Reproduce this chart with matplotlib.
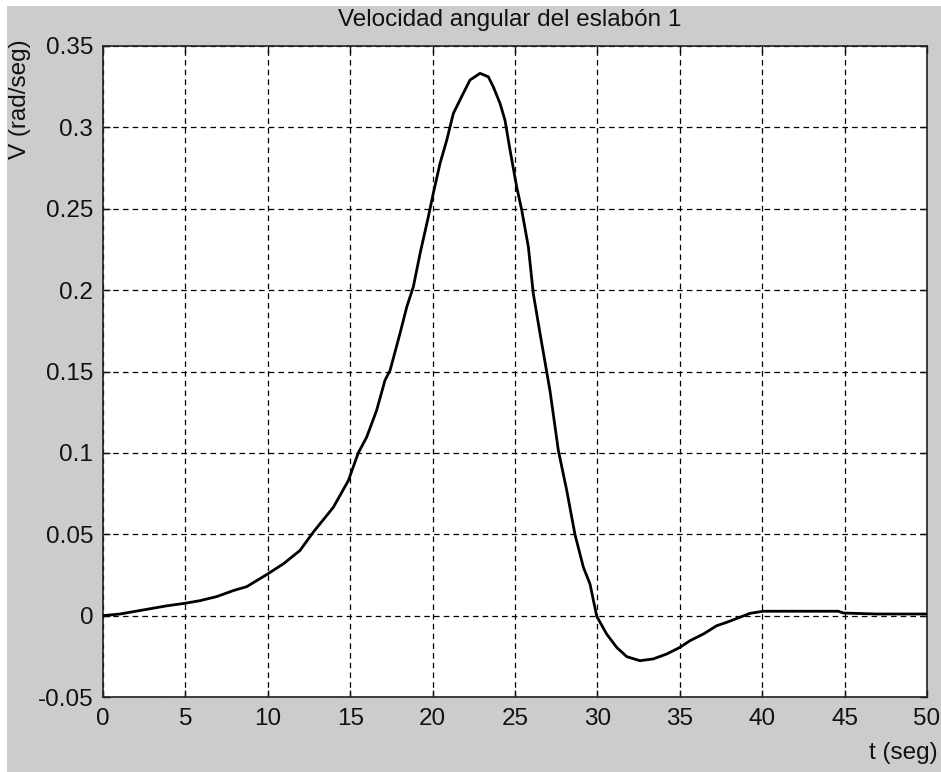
import numpy as np
import matplotlib
matplotlib.use('Agg')
import matplotlib.pyplot as plt
from matplotlib.patches import Rectangle

plt.rcParams['font.family'] = ['Liberation Sans', 'DejaVu Sans']
plt.rcParams['lines.scale_dashes'] = False

# valores
t = [0.0, 1.03, 2.45, 3.86, 4.98, 5.89, 6.9, 7.91, 8.72, 9.93, 10.94, 11.95, 12.76,
     13.98, 14.89, 15.49, 16.0, 16.6, 17.11, 17.42, 18.02, 18.43, 18.83, 19.24, 19.74,
     20.04, 20.45, 20.86, 21.26, 21.86, 22.27, 22.88, 23.38, 23.68, 24.09, 24.39, 24.7,
     25.1, 25.41, 25.81, 26.11, 26.52, 26.92, 27.12, 27.63, 28.14, 28.64, 29.15, 29.55,
     29.96, 30.56, 31.17, 31.78, 32.58, 33.39, 34.2, 35.01, 35.62, 36.43, 37.24, 37.85,
     38.65, 39.26, 40.07, 44.62, 44.92, 46.95, 50.0]
v = [0.0, 0.001, 0.0035, 0.006, 0.0076, 0.0092, 0.0117, 0.0154, 0.0178, 0.0252, 0.0318,
     0.040, 0.0513, 0.0666, 0.083, 0.100, 0.1097, 0.126, 0.1446, 0.1507, 0.1733, 0.1896,
     0.202, 0.2225, 0.245, 0.2594, 0.2778, 0.2922, 0.3086, 0.3209, 0.3291, 0.3332, 0.3311,
     0.325, 0.3148, 0.3045, 0.286, 0.2635, 0.2491, 0.2266, 0.1979, 0.1733, 0.150, 0.1384,
     0.1015, 0.0769, 0.0498, 0.0297, 0.0195, -0.0004, -0.0113, -0.0195, -0.0252, -0.0277,
     -0.0266, -0.0236, -0.0195, -0.0154, -0.0113, -0.0062, -0.0041, -0.001, 0.0014, 0.0027,
     0.0027, 0.0016, 0.001, 0.001]

xticks = [0, 5, 10, 15, 20, 25, 30, 35, 40, 45, 50]
yticks = [-0.05, 0, 0.05, 0.1, 0.15, 0.2, 0.25, 0.3, 0.35]
ytick_labels = ['-0.05', '0', '0.05', '0.1', '0.15', '0.2', '0.25', '0.3', '0.35']

FS = 17.5
W, H = 941, 772
fig = plt.figure(figsize=(W / 100, H / 100), dpi=100, facecolor='white')
fig.patches.append(Rectangle((7 / W, 0), 1, 766 / H, transform=fig.transFigure,
                             facecolor='#cccccc', edgecolor='none', zorder=-10))

ax = fig.add_axes([103 / W, 1 - 697 / H, (927 - 103) / W, (697 - 46) / H])
ax.set_facecolor('white')
ax.plot(t, v, color='black', lw=2.0, zorder=3)

ax.set_xlim(0, 50)
ax.set_ylim(-0.05, 0.35)
ax.set_xticks(xticks)
ax.set_yticks(yticks)
ax.set_yticklabels(ytick_labels)
ax.tick_params(direction='in', length=5, width=1, top=True, right=True,
               labelsize=FS, colors='#111111', pad=7)
ax.tick_params(axis='x', pad=8)
ax.grid(True, color='black', lw=0.9, linestyle=(0, (4.0, 3.0)))
for s in ax.spines.values():
    s.set_color('#222222')
    s.set_linewidth(1.2)

fig.text(510 / W, 1 - 20 / H, 'Velocidad angular del eslabón 1', ha='center', va='center',
         fontsize=FS, color='#111111')
fig.text(938 / W, 1 - 753 / H, 't (seg)', ha='right', va='center', fontsize=FS, color='#111111')
fig.text(20 / W, 1 - 99 / H, 'V (rad/seg)', ha='center', va='center', rotation=90,
         fontsize=FS, color='#111111')

fig.savefig('out.png', dpi=100, facecolor=fig.get_facecolor())
